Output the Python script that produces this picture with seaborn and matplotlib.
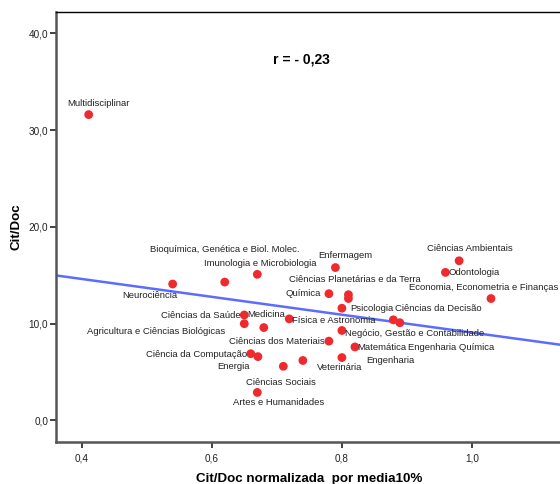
import pandas as pd
import matplotlib
matplotlib.use("Agg")
import matplotlib.pyplot as plt
from matplotlib.ticker import FuncFormatter
import seaborn as sns

# Scopus areas: Cit/Doc normalizada vs Cit/Doc
areas = [
    "Multidisciplinar", "Neurociência", "Bioquímica, Genética e Biol. Molec.",
    "Imunologia e Microbiologia", "Enfermagem", "Química",
    "Ciências Planetárias e da Terra", "", "Psicologia",
    "Ciências Ambientais", "Odontologia", "Economia, Econometria e Finanças",
    "Ciências da Decisão", "Engenharia Química", "Física e Astronomia",
    "Negócio, Gestão e Contabilidade", "Ciências dos Materiais", "Matemática",
    "Engenharia", "Veterinária", "Ciências Sociais", "Ciências da Saúde",
    "Agricultura e Ciências Biológicas", "Medicina", "Ciência da Computação",
    "Energia", "Artes e Humanidades",
]
cit_doc_norm = [
    0.411, 0.540, 0.620, 0.670, 0.790, 0.780, 0.810, 0.810, 0.800,
    0.980, 0.959, 1.029, 0.879, 0.889, 0.719, 0.800, 0.780, 0.820,
    0.800, 0.740, 0.710, 0.650, 0.650, 0.680, 0.660, 0.671, 0.670,
]
cit_doc = [
    31.6, 14.1, 14.3, 15.1, 15.8, 13.1, 13.0, 12.6, 11.6,
    16.5, 15.3, 12.6, 10.4, 10.1, 10.5, 9.3, 8.2, 7.6,
    6.5, 6.2, 5.6, 10.9, 10.0, 9.6, 6.9, 6.6, 2.9,
]

# label placement (pixel offset from point, horizontal alignment)
label_pos = [
    (10, 11, "center"), (5, -11, "right"), (0, 33, "center"),
    (3, 11, "center"), (10, 12, "center"), (-8, 0, "right"),
    (6, 15, "center"), (0, 0, "center"), (8, 0, "left"),
    (11, 12, "center"), (3, 0, "left"), (-82, 11, "left"),
    (2, 11, "left"), (8, -25, "left"), (3, -2, "left"),
    (3, -3, "left"), (-4, 0, "right"), (2, -1, "left"),
    (24, -3, "left"), (14, -7, "left"), (-2, -16, "center"),
    (-4, -1, "right"), (-19, -8, "right"), (2, 13, "center"),
    (-4, -1, "right"), (-8, -10, "right"), (-24, -10, "left"),
]

df = pd.DataFrame({"area": areas, "x": cit_doc_norm, "y": cit_doc})

plt.rcParams["font.family"] = ["Liberation Sans", "DejaVu Sans"]

fig = plt.figure(figsize=(5.6, 4.84), dpi=100)
ax = fig.add_axes([0.1, 0.0874, 0.9, 0.8884])
ax.set_xlim(0.3608, 1.135)
ax.set_ylim(-2.19, 42.23)

sns.regplot(data=df, x="x", y="y", ax=ax, scatter=False, ci=None,
            truncate=False, line_kws={"color": "#5c6cff", "lw": 1.8})
sns.scatterplot(data=df, x="x", y="y", ax=ax, color="#ee2a2f", s=40,
                edgecolor="none", zorder=3)

for (name, xv, yv), (dx, dy, ha) in zip(df[["area", "x", "y"]].values, label_pos):
    if name:
        ax.annotate(name, (xv, yv), xytext=(dx, dy), textcoords="offset pixels",
                    ha=ha, va="center", fontsize=6.8, color="#222222")

ax.set_xlim(0.3608, 1.135)
ax.set_ylim(-2.19, 42.23)
ax.set_xticks([0.4, 0.6, 0.8, 1.0])
ax.set_yticks([0, 10, 20, 30, 40])
ax.xaxis.set_major_formatter(FuncFormatter(lambda v, p: f"{v:.1f}".replace(".", ",")))
ax.yaxis.set_major_formatter(FuncFormatter(lambda v, p: f"{v:.1f}".replace(".", ",")))
ax.tick_params(axis="both", labelsize=7.2, length=4.5, width=1.3,
               color="#333333", labelcolor="#222222")
ax.tick_params(axis="y", pad=1)
ax.tick_params(axis="x", pad=4)

for side in ["left", "bottom"]:
    ax.spines[side].set_color("#555555")
    ax.spines[side].set_linewidth(1.8)
ax.spines["top"].set_color("black")
ax.spines["top"].set_linewidth(1.0)
ax.spines["right"].set_visible(False)

ax.set_xlabel("Cit/Doc normalizada  por media10%", fontsize=9.6,
              fontweight="bold", va="center")
ax.set_ylabel("Cit/Doc", fontsize=9.6, fontweight="bold", va="center")
ax.xaxis.set_label_coords(0.503, -0.0856)
ax.yaxis.set_label_coords(-0.078, 0.5)

ax.text(0.738, 37.3, "r = - 0,23", fontsize=10, fontweight="bold",
        ha="center", va="center")

fig.savefig("out.png", dpi=100)
